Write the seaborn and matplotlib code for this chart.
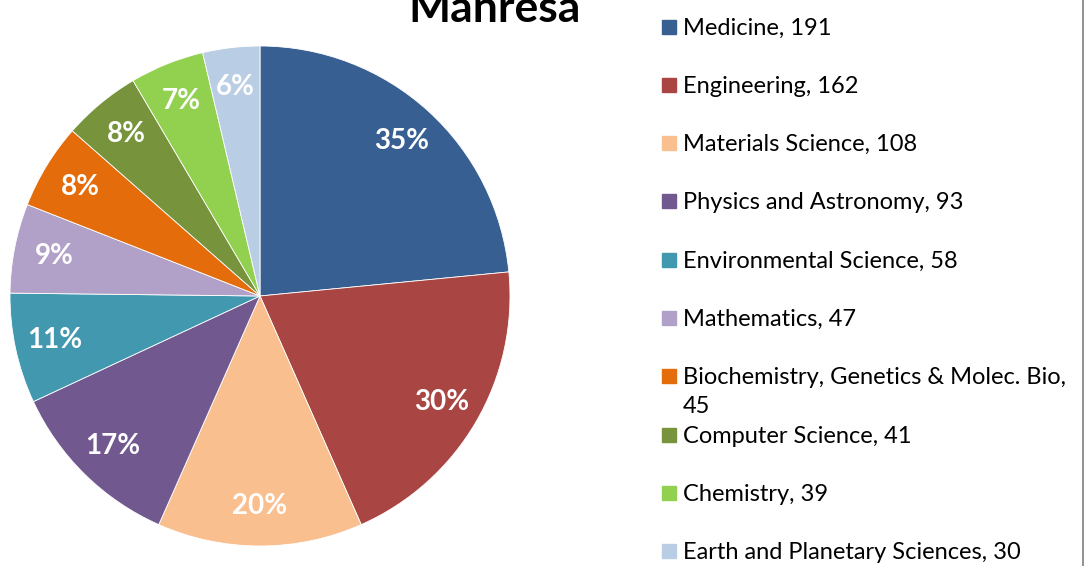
import matplotlib
matplotlib.use("Agg")
import matplotlib.pyplot as plt
import seaborn as sns
from matplotlib.lines import Line2D

sns.set_theme(style="white")
plt.rcParams['font.family'] = ['Lato', 'DejaVu Sans']

subjects = ["Medicine", "Engineering", "Materials Science", "Physics and Astronomy",
            "Environmental Science", "Mathematics", "Biochemistry, Genetics & Molec. Bio,\n",
            "Computer Science", "Chemistry", "Earth and Planetary Sciences"]
counts = [191, 162, 108, 93, 58, 47, 45, 41, 39, 30]
pct_labels = ["35%", "30%", "20%", "17%", "11%", "9%", "8%", "8%", "7%", "6%"]
hex_colors = ["#375F92", "#A94643", "#F9BF8F", "#71588F", "#4198AF",
              "#B1A0C7", "#E46C0A", "#77933C", "#92D050", "#B9CDE5"]
palette = sns.color_palette(hex_colors)

fig = plt.figure(figsize=(10.87, 5.66), dpi=100)

# pie area
ax = fig.add_axes([10 / 1087, 20 / 566, 500 / 1087, 500 / 566])
wedges, texts = ax.pie(counts, labels=pct_labels, colors=palette, startangle=90,
                       counterclock=False, labeldistance=0.84,
                       wedgeprops=dict(edgecolor="white", linewidth=0.6),
                       textprops=dict(color="white", fontsize=20, fontweight="bold"))
for t in texts:
    t.set_ha("center")
    t.set_va("center")
ax.set_xlim(-1, 1)
ax.set_ylim(-1, 1)
ax.set_aspect("equal")
ax.axis("off")

fig.text(495 / 1087, 1 - 22 / 566, "Manresa", ha="center", va="baseline",
         fontsize=32, fontweight="bold", color="black")

# legend, one row per slice
top = 1 - 26.5 / 566
step = 58.3 / 566
for i, (name, n) in enumerate(zip(subjects, counts)):
    y = top - i * step
    if name.endswith("\n"):
        label = name + str(n)
    else:
        label = f"{name}, {n}"
    fig.add_artist(Line2D([669 / 1087], [y], marker="s", markersize=10.5,
                          color=palette[i], linestyle="none"))
    fig.text(683 / 1087, y + 9 / 566, label, ha="left", va="top",
             fontsize=17, color="black", linespacing=1.45)

fig.add_artist(Line2D([1083 / 1087, 1083 / 1087], [0, 1], color="#7f7f7f", linewidth=1.2))

fig.savefig("out.png", dpi=100)
